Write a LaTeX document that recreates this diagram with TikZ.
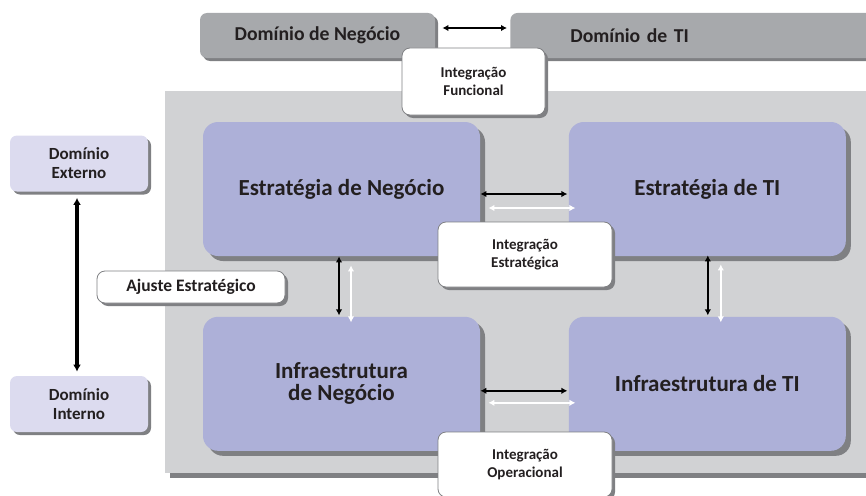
\documentclass[tikz,border=0pt]{standalone}
\usepackage{fontspec}
\setmainfont{Carlito}
\usetikzlibrary{shadows, arrows.meta, positioning}
\usepackage{xcolor}

\definecolor{panelgray}{HTML}{D1D2D4}
\definecolor{shadowgray}{HTML}{7F8083}
\definecolor{domaingray}{HTML}{A7A9AC}
\definecolor{boxlav}{HTML}{ADB0D8}
\definecolor{palelav}{HTML}{DCDBEF}
\definecolor{textdark}{HTML}{231F20}

\begin{document}
\begin{tikzpicture}[x=1pt, y=-1pt, node distance=88pt, thick, text=textdark]

			% Define style for boxes
			\tikzstyle{panelbox} = [rectangle, fill=panelgray, minimum width=710pt, minimum height=382pt,
								general shadow={fill=shadowgray, shadow xshift=5pt, shadow yshift=-5pt}]
			\tikzstyle{domainbox} = [rectangle, fill=domaingray, rounded corners=7pt, minimum height=45pt,
								general shadow={fill=shadowgray, shadow xshift=3pt, shadow yshift=-3pt},
								font=\fontsize{19.7}{22}\selectfont\bfseries]
			\tikzstyle{block} = [rectangle, fill=boxlav, rounded corners=15pt, align=center,
								minimum width=277pt, minimum height=134pt,
								general shadow={fill=shadowgray, shadow xshift=5pt, shadow yshift=-5pt},
								font=\fontsize{23}{22}\selectfont\bfseries]
			\tikzstyle{tagbox} = [rectangle, draw=shadowgray, line width=0.8pt, fill=white, rounded corners=8pt,
								align=center, general shadow={fill=shadowgray, shadow xshift=3pt, shadow yshift=-3pt},
								font=\fontsize{15}{18}\selectfont\bfseries]
			\tikzstyle{scopebox} = [rectangle, fill=palelav, rounded corners=7pt, align=center,
								minimum width=138pt, minimum height=56pt,
								general shadow={fill=shadowgray, shadow xshift=3pt, shadow yshift=-3pt},
								font=\fontsize{17}{19}\selectfont\bfseries]

			% Define style for arrows
			\tikzstyle{darkline} = [draw=black, line width=1.8pt, {Latex[length=6pt,width=6.5pt]}-{Latex[length=6pt,width=6.5pt]}]
			\tikzstyle{lightline} = [draw=white, line width=1.8pt, {Latex[length=6pt,width=6.5pt]}-{Latex[length=6pt,width=6.5pt]}]

			\useasboundingbox (0,0) rectangle (866,495);
			\clip (0,0) rectangle (866,495);

			% Place nodes
			\node [panelbox] (panel) at (520,282) {};

			\node [domainbox, minimum width=235pt] (dneg) at (317.5,35.5) {Domínio de Negócio};
			\node [domainbox, text width=270pt, align=left, inner xsep=60pt, anchor=west] (dti) at (510,35.5) {Domínio de TI};
			\node [tagbox, minimum width=143pt, minimum height=67pt] (ifunc) at (473.5,81.5) {Integração\\Funcional};

			\node [block] (estneg) at (341.5,189) {Estratégia de Negócio};
			\node [block, right=of estneg] (estti) {Estratégia de TI};
			\node [block, below=60pt of estneg] (infneg) {Infraestrutura\\de Negócio};
			\node [block, right=of infneg] (infti) {Infraestrutura de TI};

			\node [tagbox, minimum width=174pt, minimum height=65pt] (iestr) at (525,254.5) {Integração\\Estratégica};
			\node [tagbox, minimum width=174pt, minimum height=65pt] (ioper) at (525,464.5) {Integração\\Operacional};

			\node [scopebox] (dext) at (79,163.5) {Domínio\\Externo};
			\node [scopebox] (dint) at (79,404) {Domínio\\Interno};
			\node [tagbox, minimum width=188pt, minimum height=32pt, font=\fontsize{17.5}{20}\selectfont\bfseries] (ajuste) at (191,287) {Ajuste Estratégico};

			% Draw edges
			\path [darkline, shorten <=7pt, shorten >=3pt] ([yshift=7.5pt]dneg.east) -- ([yshift=7.5pt]dti.west);

			\path [darkline] ([yshift=-5pt]estneg.east) -- ([yshift=-5pt,xshift=-1pt]estti.west);
			\path [lightline] ([xshift=8pt,yshift=-19pt]estneg.east) -- ([xshift=7pt,yshift=-19pt]estti.west);
			\path [darkline] ([yshift=-7pt]infneg.east) -- ([yshift=-7pt,xshift=-1pt]infti.west);
			\path [lightline] ([xshift=8pt,yshift=-19pt]infneg.east) -- ([xshift=7pt,yshift=-19pt]infti.west);

			\path [darkline] ([xshift=-2.5pt]estneg.south) -- ([xshift=-2.5pt,yshift=1pt]infneg.north);
			\path [lightline] ([xshift=9.5pt,yshift=-9pt]estneg.south) -- ([xshift=9.5pt,yshift=-6pt]infneg.north);
			\path [darkline] ([xshift=0.5pt,yshift=1pt]estti.south) -- ([xshift=0.5pt,yshift=1pt]infti.north);
			\path [lightline] ([xshift=13.5pt,yshift=-8pt]estti.south) -- ([xshift=13.5pt,yshift=-6pt]infti.north);

			\path [draw=black, line width=3.5pt, {Latex[length=7pt,width=8pt]}-{Latex[length=7pt,width=8pt]},
				shorten <=6pt, shorten >=4pt] ([xshift=-2pt]dext.south) -- ([xshift=-2pt]dint.north);
		\end{tikzpicture}
\end{document}
